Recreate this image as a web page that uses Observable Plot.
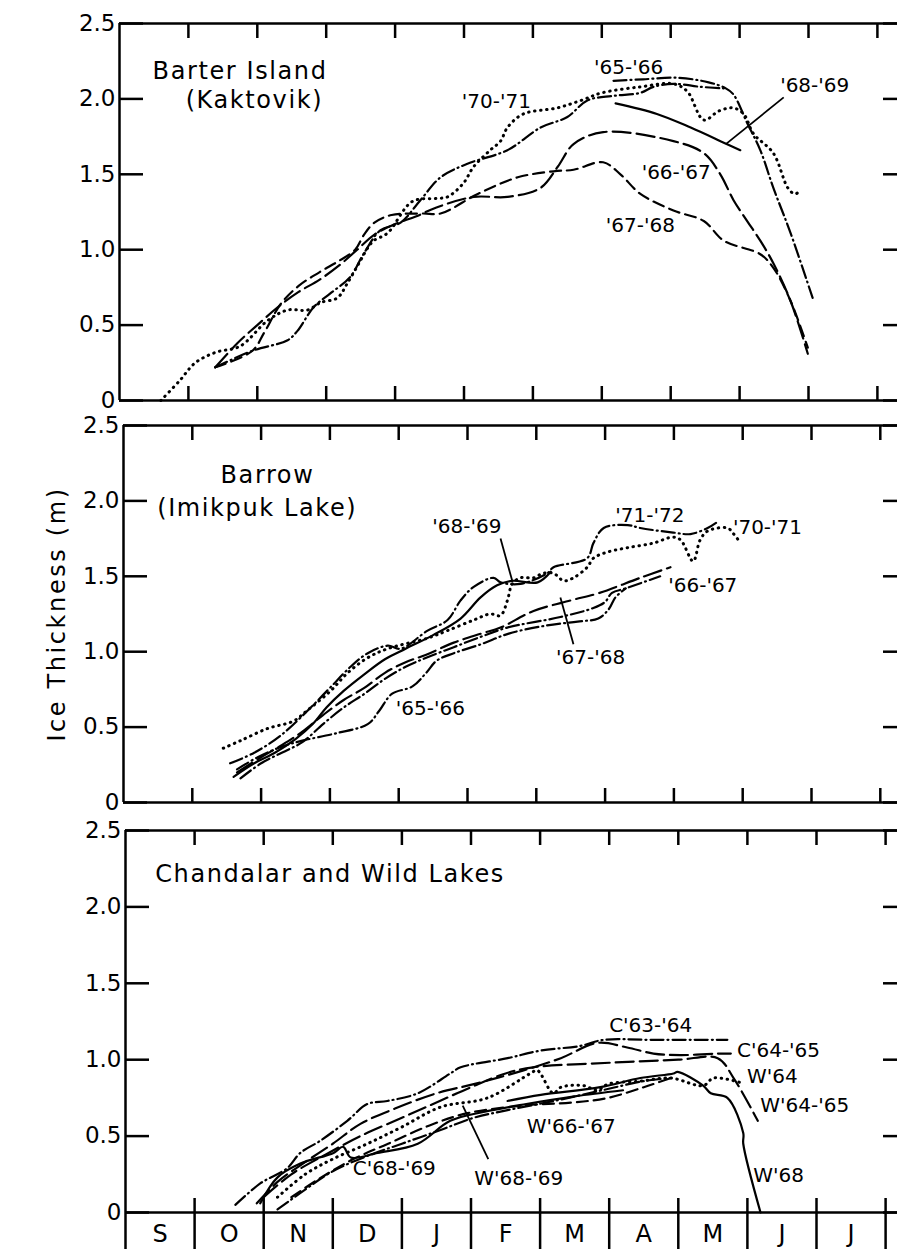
<!DOCTYPE html>
<html><head><meta charset="utf-8">
<script src="https://cdn.jsdelivr.net/npm/d3@7"></script>
<script src="https://cdn.jsdelivr.net/npm/@observablehq/plot@0.6"></script>
<style>
html,body{margin:0;padding:0;background:#fff;overflow:hidden;}
#chart{width:897px;height:1249px;}
#chart svg{display:block;}
</style></head><body><div id="chart"></div>
<script>
// ---------- axis content ----------
const MONTHS = ["S","O","N","D","J","F","M","A","M","J","J"];
const Y_TICKS = [0, 0.5, 1, 1.5, 2, 2.5];
const BOUNDS = [1,2,3,4,5,6,7,8,9,10,11];
const MIDS = [0.5,1.5,2.5,3.5,4.5,5.5,6.5,7.5,8.5,9.5,10.5];
const Y_TITLE = "Ice Thickness (m)";

// ---------- Barter Island (Kaktovik) : [months since Sep 1, thickness m] ----------
const bi_70_71 = [[0.60,0],[0.87,0.13],[1.10,0.25],[1.40,0.32],[1.75,0.36],[2.15,0.53],[2.44,0.60],[2.73,0.60],[2.92,0.65],[3.16,0.68],[3.31,0.78],[3.50,0.93],[3.60,1.01],[3.69,1.06],[3.89,1.11],[4.25,1.32],[4.6,1.34],[4.76,1.35],[4.99,1.44],[5.14,1.55],[5.38,1.66],[5.53,1.72],[5.63,1.81],[5.86,1.90],[6.35,1.94],[6.7,1.99],[7.0,2.04],[7.56,2.08],[8.04,2.10],[8.24,2.05],[8.48,1.86],[8.7,1.92],[8.91,1.94],[9.06,1.90],[9.2,1.77],[9.49,1.64],[9.7,1.41],[9.8,1.37],[9.88,1.39]];
const bi_68_69a = [[1.39,0.22],[1.93,0.33],[2.44,0.40],[2.58,0.46],[2.82,0.62],[3.06,0.71],[3.35,0.82],[3.54,0.97],[3.79,1.13],[4.08,1.18],[4.37,1.33],[4.66,1.48],[5.05,1.57],[5.63,1.66],[6.11,1.81],[6.5,1.88],[6.79,1.99],[7.17,2.02],[7.56,2.04],[7.75,2.08],[8.04,2.10],[8.43,2.08],[8.77,2.07]];
const bi_68_69b = [[7.2,1.97],[7.8,1.90],[8.29,1.81],[8.77,1.71],[9.01,1.66]];
const bi_65_66 = [[7.17,2.12],[7.6,2.13],[8.1,2.14],[8.55,2.11],[8.8,2.07],[8.91,2.03],[9.11,1.84],[9.30,1.66],[9.49,1.41],[9.74,1.11],[10.06,0.68]];
const bi_66_67 = [[1.39,0.22],[1.71,0.38],[2.0,0.5],[2.3,0.62],[2.6,0.72],[2.9,0.80],[3.2,0.90],[3.45,1.0],[3.7,1.1],[4.0,1.17],[4.3,1.22],[4.6,1.28],[5.14,1.35],[5.63,1.35],[6.11,1.41],[6.36,1.55],[6.59,1.70],[7.02,1.78],[8.04,1.72],[8.48,1.64],[8.72,1.50],[8.91,1.33],[9.11,1.19],[9.30,1.06],[9.49,0.91],[9.74,0.66],[9.99,0.31]];
const bi_67_68 = [[1.39,0.22],[1.93,0.33],[2.1,0.45],[2.34,0.64],[2.6,0.76],[2.9,0.85],[3.2,0.93],[3.42,1.0],[3.55,1.1],[3.7,1.18],[3.95,1.23],[4.4,1.24],[4.66,1.24],[5.2,1.37],[5.78,1.48],[6.3,1.52],[6.59,1.53],[7.02,1.58],[7.27,1.50],[7.56,1.37],[8.04,1.26],[8.48,1.19],[8.77,1.06],[9.30,0.97],[9.49,0.88],[9.74,0.66],[9.99,0.35]];
const bi_labels = [{t:"'65-'66",m:7.39,v:2.21},{t:"'70-'71",m:5.47,v:1.98},{t:"'68-'69",m:10.09,v:2.09},{t:"'66-'67",m:8.08,v:1.51},{t:"'67-'68",m:7.56,v:1.16}];
const bi_leaders = [{m1:9.64,v1:2.01,m2:8.80,v2:1.70}];
const bi_titles = [{t:"Barter Island",m:0.48,v:2.185},{t:"(Kaktovik)",m:0.96,v:1.99}];

// ---------- Barrow (Imikpuk Lake) ----------
const ba_70_71 = [[1.45,0.36],[1.70,0.41],[2.09,0.49],[2.47,0.54],[2.67,0.61],[3.01,0.74],[3.26,0.86],[3.55,0.96],[3.84,1.02],[4.42,1.09],[4.71,1.14],[5.09,1.21],[5.33,1.25],[5.48,1.24],[5.58,1.34],[5.65,1.45],[5.77,1.49],[5.96,1.49],[6.10,1.52],[6.25,1.52],[6.40,1.47],[6.54,1.49],[6.74,1.56],[6.83,1.62],[7.03,1.66],[7.33,1.69],[7.70,1.72],[7.99,1.76],[8.10,1.74],[8.28,1.60],[8.38,1.74],[8.49,1.80],[8.78,1.82],[8.87,1.78],[8.97,1.72]];
const ba_71_72 = [[1.55,0.26],[1.9,0.33],[2.3,0.45],[2.7,0.62],[3.0,0.76],[3.3,0.90],[3.55,0.99],[3.84,1.04],[4.03,1.02],[4.42,1.14],[4.71,1.21],[4.90,1.34],[5.09,1.43],[5.38,1.49],[5.48,1.46],[5.77,1.45],[6.16,1.52],[6.25,1.56],[6.74,1.62],[6.83,1.72],[6.98,1.82],[7.33,1.84],[7.51,1.82],[7.99,1.79],[8.24,1.78],[8.49,1.82],[8.63,1.86]];
const ba_68_69 = [[1.6,0.17],[1.9,0.26],[2.2,0.33],[2.5,0.42],[2.75,0.52],[2.95,0.63],[3.2,0.74],[3.5,0.85],[3.8,0.95],[4.1,1.02],[4.5,1.11],[4.9,1.22],[5.19,1.36],[5.43,1.44],[5.65,1.47],[6.02,1.46],[6.21,1.53]];
const ba_66_67 = [[1.65,0.20],[2.0,0.30],[2.3,0.38],[2.6,0.47],[2.9,0.58],[3.2,0.68],[3.5,0.76],[3.8,0.86],[4.1,0.93],[4.4,0.98],[4.8,1.06],[5.2,1.12],[5.48,1.16],[5.96,1.27],[6.5,1.34],[6.92,1.39],[7.51,1.49],[7.95,1.56]];
const ba_67_68 = [[1.7,0.16],[2.0,0.26],[2.3,0.33],[2.6,0.40],[2.9,0.52],[3.2,0.63],[3.5,0.72],[3.8,0.82],[4.1,0.90],[4.4,0.96],[4.8,1.03],[5.2,1.10],[5.58,1.16],[6.35,1.23],[6.83,1.29],[7.0,1.33],[7.1,1.39],[7.3,1.42],[7.8,1.50]];
const ba_65_66 = [[1.65,0.22],[1.95,0.30],[2.3,0.37],[2.6,0.41],[3.1,0.46],[3.55,0.52],[3.72,0.61],[3.90,0.72],[4.2,0.77],[4.4,0.86],[4.55,0.94],[4.8,0.99],[5.2,1.05],[5.6,1.12],[6.1,1.17],[6.6,1.20],[6.9,1.22],[7.05,1.28],[7.15,1.36],[7.3,1.42]];
const ba_labels = [{t:"'68-'69",m:4.99,v:1.83},{t:"'71-'72",m:7.65,v:1.90},{t:"'70-'71",m:9.36,v:1.82},{t:"'66-'67",m:8.42,v:1.44},{t:"'67-'68",m:6.79,v:0.96},{t:"'65-'66",m:4.46,v:0.62}];
const ba_leaders = [{m1:5.48,v1:1.75,m2:5.65,v2:1.47},{m1:6.54,v1:1.05,m2:6.35,v2:1.36}];
const ba_titles = [{t:"Barrow",m:1.41,v:2.17},{t:"(Imikpuk Lake)",m:0.49,v:1.95}];

// ---------- Chandalar (C) and Wild (W) Lakes ----------
const cw_c63_64 = [[1.59,0.05],[1.95,0.19],[2.34,0.29],[2.53,0.39],[2.82,0.47],[3.21,0.60],[3.50,0.71],[3.79,0.73],[4.23,0.78],[4.70,0.91],[4.85,0.95],[5.53,1.01],[6.01,1.06],[6.58,1.09],[6.92,1.13],[7.6,1.13],[8.71,1.13]];
const cw_c64_65 = [[1.9,0.06],[2.2,0.2],[2.6,0.33],[3.0,0.45],[3.4,0.58],[3.9,0.68],[4.5,0.78],[5.04,0.84],[5.76,0.93],[6.3,1.01],[6.83,1.11],[7.26,1.08],[7.64,1.04],[8.03,1.03],[8.57,1.04],[8.76,1.04]];
const cw_w64 = [[2.2,0.1],[2.6,0.25],[3.0,0.35],[3.5,0.45],[4.0,0.56],[4.56,0.69],[5.24,0.75],[5.86,0.91],[5.96,0.93],[6.19,0.78],[6.30,0.82],[6.63,0.83],[6.83,0.80],[6.98,0.84],[7.45,0.86],[7.89,0.88],[8.36,0.83],[8.51,0.88],[8.90,0.85]];
const cw_w64_65 = [[2.0,0.1],[2.4,0.25],[2.9,0.38],[3.4,0.5],[4.0,0.62],[4.5,0.72],[5.0,0.82],[5.5,0.91],[5.90,0.95],[7.0,0.98],[8.0,1.0],[8.57,1.01],[8.80,0.88],[9.15,0.60]];
const cw_w66_67 = [[2.4,0.1],[2.8,0.22],[3.3,0.35],[3.8,0.45],[4.4,0.57],[4.95,0.65],[5.76,0.70],[6.48,0.72],[6.98,0.75],[7.5,0.82],[7.89,0.88]];
const cw_w68_69 = [[2.2,0.02],[2.6,0.15],[3.0,0.27],[3.5,0.37],[4.0,0.45],[4.56,0.54],[5.04,0.62],[5.53,0.67],[6.2,0.73],[6.9,0.80],[7.5,0.86],[7.9,0.88]];
const cw_c68_69 = [[1.95,0.06],[2.20,0.23],[2.53,0.32],[3.01,0.39],[3.15,0.43],[3.26,0.36],[3.65,0.39],[4.23,0.45],[4.70,0.60],[5.2,0.66],[5.8,0.71],[6.5,0.76],[7.2,0.80]];
const cw_w68 = [[5.53,0.73],[6.01,0.77],[6.87,0.82],[7.45,0.88],[7.93,0.91],[7.99,0.92],[8.36,0.83],[8.47,0.78],[8.71,0.75],[8.94,0.52],[8.94,0.45],[9.19,0]];
const cw_labels = [{t:"C'63-'64",m:7.60,v:1.22},{t:"C'64-'65",m:9.45,v:1.06},{t:"W'64",m:9.36,v:0.89},{t:"W'64-'65",m:9.83,v:0.70},{t:"W'66-'67",m:6.45,v:0.56},{t:"W'68-'69",m:5.69,v:0.22},{t:"W'68",m:9.45,v:0.24},{t:"C'68-'69",m:3.89,v:0.29}];
const cw_leaders = [{m1:5.25,v1:0.35,m2:4.88,v2:0.70}];
const cw_titles = [{t:"Chandalar and Wild Lakes",m:0.43,v:2.21}];

// ---------- rendering ----------
const STYLES = {
  solid: {},
  dotted: {strokeDasharray: "0.5,5.5", strokeLinecap: "round", strokeWidth: 3},
  dash: {strokeDasharray: "11,6"},
  longdash: {strokeDasharray: "18,6"},
  dashdot: {strokeDasharray: "13,4,1,4", strokeLinecap: "round"}
};
const fmt = d => d === 0 ? "0" : d.toFixed(1);
const rows = pts => pts.map(([m, v]) => ({m, v}));

function panel(cfg) {
  const {series, labels, leaders, titles, height, mt, mb, ml, step, bottom, ylabel} = cfg;
  const xmax = (897 - ml) / step;
  const marks = [
    Plot.ruleY([0, 2.5], {strokeWidth: 2.5}),
    Plot.ruleX([0], {strokeWidth: 2.5}),
    Plot.axisY({anchor: "left", ticks: Y_TICKS, tickSize: -24, tickPadding: 28, tickFormat: fmt, fontSize: 23, strokeWidth: 2.5, label: null}),
    Plot.axisY({anchor: "right", ticks: Y_TICKS, tickSize: -15, tickFormat: () => "", strokeWidth: 2.5, label: null}),
    Plot.axisX({anchor: "top", ticks: BOUNDS, tickSize: -14, tickFormat: () => "", strokeWidth: 2.5, label: null}),
    Plot.axisX({anchor: "bottom", ticks: BOUNDS, tickSize: -14, tickFormat: () => "", strokeWidth: 2.5, label: null})
  ];
  for (const s of series) {
    marks.push(Plot.line(rows(s.pts), {x: "m", y: "v", stroke: "black", strokeWidth: 2.2, curve: "catmull-rom", ...STYLES[s.style]}));
  }
  marks.push(Plot.link(leaders, {x1: "m1", y1: "v1", x2: "m2", y2: "v2", stroke: "black", strokeWidth: 1.8}));
  marks.push(Plot.text(labels, {x: "m", y: "v", text: "t", fontSize: 20, textAnchor: "middle", lineAnchor: "middle"}));
  marks.push(Plot.text(titles, {x: "m", y: "v", text: "t", fontSize: 24, textAnchor: "start", lineAnchor: "middle"}));
  if (ylabel) marks.push(Plot.text([ylabel], {frameAnchor: "left", textAnchor: "middle", lineAnchor: "middle", rotate: -90, dx: -66, fontSize: 24}));
  if (bottom) {
    marks.push(Plot.axisX({anchor: "bottom", ticks: [0, ...BOUNDS], tickSize: 37, tickFormat: () => "", strokeWidth: 2.5, label: null}));
    marks.push(Plot.axisX({anchor: "bottom", ticks: MIDS, tickSize: 0, tickPadding: 12, tickFormat: d => MONTHS[Math.floor(d)], fontSize: 24, label: null}));
  }
  const svg = Plot.plot({
    width: 897, height,
    marginLeft: ml, marginRight: 0, marginTop: mt, marginBottom: mb,
    x: {domain: [0, xmax]},
    y: {domain: [0, 2.5]},
    style: {fontFamily: "'DejaVu Sans', sans-serif", fontSize: "22px", overflow: "visible", background: "transparent", color: "black"},
    marks
  });
  // widen the hand-lettered titles a little, as in the drawing
  const wide = new Map(titles.map(d => [d.t, "1.6px"]));
  if (ylabel) wide.set(ylabel, "2.6px");
  d3.select(svg).selectAll("text").each(function () {
    const ls = wide.get(this.textContent);
    if (ls) this.style.letterSpacing = ls;
  });
  return svg;
}

const chart = document.getElementById("chart");
chart.append(panel({
  height: 412, mt: 23, mb: 12, ml: 119, step: 68.9,
  series: [
    {pts: bi_70_71, style: "dotted"},
    {pts: bi_68_69a, style: "dashdot"},
    {pts: bi_68_69b, style: "solid"},
    {pts: bi_65_66, style: "dashdot"},
    {pts: bi_66_67, style: "longdash"},
    {pts: bi_67_68, style: "dash"}
  ],
  labels: bi_labels, leaders: bi_leaders, titles: bi_titles
}));
chart.append(panel({
  height: 405, mt: 13, mb: 15, ml: 123, step: 68.8, ylabel: Y_TITLE,
  series: [
    {pts: ba_70_71, style: "dotted"},
    {pts: ba_71_72, style: "dashdot"},
    {pts: ba_68_69, style: "solid"},
    {pts: ba_66_67, style: "longdash"},
    {pts: ba_67_68, style: "dashdot"},
    {pts: ba_65_66, style: "dashdot"}
  ],
  labels: ba_labels, leaders: ba_leaders, titles: ba_titles
}));
chart.append(panel({
  height: 432, mt: 13, mb: 37, ml: 125, step: 69.1, bottom: true,
  series: [
    {pts: cw_c63_64, style: "dashdot"},
    {pts: cw_c64_65, style: "longdash"},
    {pts: cw_w64, style: "dotted"},
    {pts: cw_w64_65, style: "longdash"},
    {pts: cw_w66_67, style: "dash"},
    {pts: cw_w68_69, style: "dashdot"},
    {pts: cw_c68_69, style: "solid"},
    {pts: cw_w68, style: "solid"}
  ],
  labels: cw_labels, leaders: cw_leaders, titles: cw_titles
}));
</script></body></html>
